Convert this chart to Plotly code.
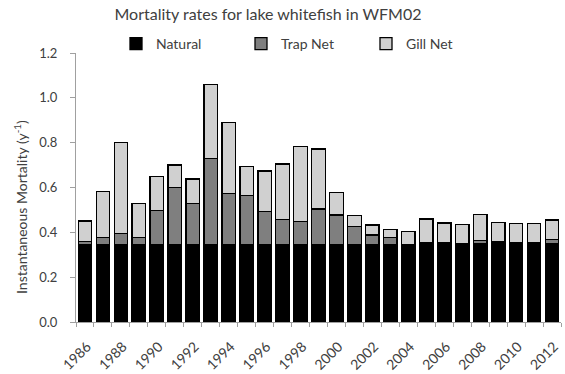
import plotly.graph_objects as go

years = list(range(1986, 2013))
natural = [0.345] * 19 + [0.35] * 8
trap_net = [0.013, 0.031, 0.051, 0.031, 0.152, 0.255, 0.185, 0.383, 0.229, 0.219,
            0.147, 0.113, 0.103, 0.159, 0.133, 0.081, 0.043, 0.033, 0.0, 0.002,
            0.002, 0.0, 0.013, 0.007, 0.005, 0.005, 0.019]
gill_net = [0.093, 0.206, 0.404, 0.152, 0.152, 0.100, 0.108, 0.333, 0.316, 0.129,
            0.182, 0.247, 0.335, 0.268, 0.099, 0.049, 0.045, 0.036, 0.058, 0.108,
            0.090, 0.086, 0.116, 0.086, 0.085, 0.085, 0.086]
tick_years = list(range(1986, 2013, 2))

txt = "#404040"
font = "Lato"
W, H = 565, 374
ml, mr, mt, mb = 76, 4, 53, 52
pw, ph = W - ml - mr, H - mt - mb

fig = go.Figure()
for name, vals, col in [("Natural", natural, "#000000"),
                        ("Trap Net", trap_net, "#7f7f7f"),
                        ("Gill Net", gill_net, "#d0d0d0")]:
    fig.add_trace(go.Bar(x=years, y=vals, name=name,
                         marker=dict(color=col, line=dict(color="#000000", width=1.3))))

fig.update_layout(
    barmode="stack",
    bargap=0.25,
    width=W, height=H,
    margin=dict(l=ml, r=mr, t=mt, b=mb),
    plot_bgcolor="white", paper_bgcolor="white",
    font=dict(family=font, size=13, color=txt),
    title=dict(text="Mortality rates for lake whitefish in WFM02",
               x=268 / W, xanchor="center", y=1 - 14 / H, yanchor="middle",
               font=dict(size=16, color=txt)),
    legend=dict(orientation="h",
                x=(116 - ml) / pw, xanchor="left",
                y=(H - mb - 44) / ph, yanchor="middle",
                entrywidth=80, entrywidthmode="pixels",
                font=dict(size=14, color=txt), traceorder="normal",
                itemwidth=30),
    showlegend=True,
)
fig.add_annotation(text="Instantaneous Mortality (y<sup>-1</sup>)",
                   xref="paper", yref="paper",
                   x=-(ml - 20) / pw, y=(H - mb - 207) / ph,
                   xanchor="center", yanchor="middle", textangle=-90,
                   showarrow=False, font=dict(size=14, color=txt))
fig.update_xaxes(range=[1985.5, 2012.5], tickvals=tick_years, tickangle=-45,
                 showline=True, linecolor="#a0a0a0", linewidth=1,
                 ticks="", showgrid=False, ticklabelshift=2, ticklabelstandoff=10,
                 automargin=False,
                 minor=dict(ticks="outside", tick0=1985.5, dtick=1, ticklen=4,
                            tickcolor="#a0a0a0", showgrid=False),
                 tickfont=dict(size=14, color=txt))
fig.update_yaxes(range=[0, 1.2], dtick=0.2, tickformat=".1f", automargin=False,
                 showline=True, linecolor="#a0a0a0", linewidth=1,
                 ticks="outside", ticklen=5, tickcolor="#a0a0a0",
                 showgrid=False, zeroline=False, ticklabelstandoff=10,
                 tickfont=dict(size=13, color=txt))

fig.write_html("out.html", config={"displayModeBar": False},
               post_script="document.body.style.margin='0';")
